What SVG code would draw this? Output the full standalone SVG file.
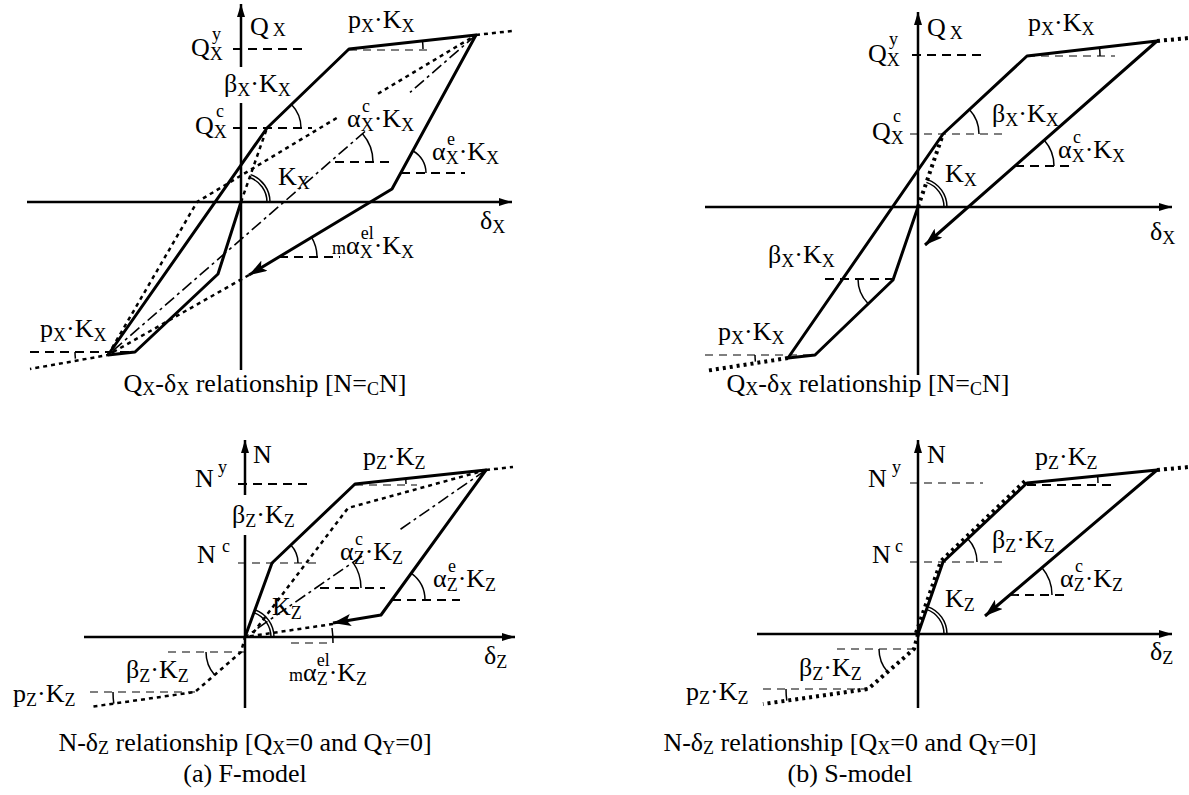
<svg xmlns="http://www.w3.org/2000/svg" width="1189" height="795" viewBox="0 0 1189 795">
<style>
text{font-family:"Liberation Serif","Times New Roman",serif;fill:#000}
.l{font-size:26px}
.s{font-size:18px}
.c{font-size:26px}
.cs{font-size:18px}
.ax{stroke:#000;stroke-width:2.5;fill:none}
.sk{stroke:#000;stroke-width:3;fill:none;stroke-linejoin:round}
.dt{stroke:#000;stroke-width:2.5;stroke-dasharray:4 4;fill:none}
.db{stroke:#000;stroke-width:4;stroke-dasharray:3 4;fill:none}
.dd{stroke:#000;stroke-width:1.6;stroke-dasharray:12 4 3 4;fill:none}
.rf{stroke:#000;stroke-width:1.8;stroke-dasharray:9 6;fill:none}
.rt{stroke:#000;stroke-width:1.1;stroke-dasharray:8 6;fill:none}
.ar{stroke:#000;stroke-width:1.5;fill:none}
</style>
<defs>
<marker id="ah" markerUnits="userSpaceOnUse" markerWidth="14" markerHeight="10" refX="13" refY="5" orient="auto"><path d="M0,1 L13,5 L0,9 z" fill="#000"/></marker>
<marker id="uh" markerUnits="userSpaceOnUse" markerWidth="20" markerHeight="12" refX="18" refY="6" orient="auto"><path d="M0,0 L18,6 L0,12 L4,6 z" fill="#000"/></marker>
</defs>

<!-- Panel (a) top: Qx-dx F-model -->
<g id="a-qx">
<g id="a-qx-axes">
<path class="ax" d="M241,370 V103"/>
<path class="ax" d="M241,67 V4" marker-end="url(#ah)"/>
<path class="ax" d="M27,202 H512" marker-end="url(#ah)"/>
</g>
<g id="a-qx-curves">
<path class="sk" d="M108,355 L267,128 L349,49 L476,35 L392,189 L249,275" marker-end="url(#uh)"/>
<path class="sk" d="M241,202 L218,274 L135,352 L108,355"/>
<path class="dt" d="M241,202 L267,128"/>
<path class="dt" d="M108,355 L197,202 L340,116"/>
<path class="dt" d="M378,93.7 L476,35"/>
<path class="dt" d="M476,35 L512,31"/>
<path class="dt" d="M249,275 L108,355 L30,369"/>
<path class="dd" d="M476,35 L410,92.4"/>
<path class="dd" d="M365,131.5 L108,355"/>
</g>
<g id="a-qx-refs">
<path class="rf" d="M233,49 H307"/>
<path class="rt" d="M349,50 H433"/>
<path class="rf" d="M233,128 H312"/>
<path class="rf" d="M335,162 H395"/>
<path class="rf" d="M401,173 H465"/>
<path class="rf" d="M279,257 H340"/>
<path class="rf" d="M30,352 H135"/>
<path class="ar" d="M267,202 A26,26 0 0 0 249.6,177.5 M270,202 A29,29 0 0 0 250.6,174.6"/>
<path class="ar" d="M301,128 A34,34 0 0 0 291.5,104.4"/>
<path class="ar" d="M423,49 A74,74 0 0 0 422.5,40.9"/>
<path class="ar" d="M373,162 A43,43 0 0 0 362.5,133.8"/>
<path class="ar" d="M426,173 A25,25 0 0 0 413,151"/>
<path class="ar" d="M317,257 A38,38 0 0 0 311.6,237.4"/>
<path class="ar" d="M75,352 A60,60 0 0 0 75.4,358.6"/>
</g>
<g id="a-qx-labels">
<text class="l" x="250" y="35">Q<tspan class="s" dx="4" dy="1">X</tspan></text>
<text class="l" x="191" y="56">Q<tspan class="s" dy="4">X</tspan></text>
<text class="s" x="212" y="40">y</text>
<text class="l" x="195" y="134">Q<tspan class="s" dy="4">X</tspan></text>
<text class="s" x="216" y="117">c</text>
<text class="l" x="224" y="92">β<tspan class="s" dy="4">X</tspan><tspan dy="-4">·K</tspan><tspan class="s" dy="4">X</tspan></text>
<text class="l" x="278" y="185">K<tspan class="s" dy="4">X</tspan></text>
<text class="l" x="348" y="28">p<tspan class="s" dy="4">X</tspan><tspan dy="-4">·K</tspan><tspan class="s" dy="4">X</tspan></text>
<text class="l" x="347" y="127">α<tspan class="s" dy="4">X</tspan><tspan dy="-4">·K</tspan><tspan class="s" dy="4">X</tspan></text>
<text class="s" x="362" y="112">c</text>
<text class="l" x="432" y="160">α<tspan class="s" dy="4">X</tspan><tspan dy="-4">·K</tspan><tspan class="s" dy="4">X</tspan></text>
<text class="s" x="447" y="145">e</text>
<text class="l" x="480" y="229">δ<tspan class="s" dy="4">X</tspan></text>
<text class="l" x="332" y="254"><tspan class="s">m</tspan>α<tspan class="s" dy="4">X</tspan><tspan class="s" dx="-12" dy="-19">el</tspan><tspan dy="15">·K</tspan><tspan class="s" dy="4">X</tspan></text>
<text class="l" x="40" y="337">p<tspan class="s" dy="4">X</tspan><tspan dy="-4">·K</tspan><tspan class="s" dy="4">X</tspan></text>
<text class="c" x="265" y="392" text-anchor="middle">Q<tspan class="cs" dy="3">X</tspan><tspan dy="-3">-δ</tspan><tspan class="cs" dy="3">X</tspan><tspan dy="-3"> relationship [N=</tspan><tspan class="cs" dy="3">C</tspan><tspan dy="-3">N]</tspan></text>
</g>
</g>

<!-- Panel (b) top: Qx-dx S-model -->
<g id="b-qx">
<g id="b-qx-axes">
<path class="ax" d="M918,375 V12" marker-end="url(#ah)"/>
<path class="ax" d="M705,207 H1172" marker-end="url(#ah)"/>
</g>
<g id="b-qx-curves">
<path class="sk" d="M788,358 L943,134 L1027,56 L1157,41 L925,245" marker-end="url(#uh)"/>
<path class="sk" d="M918,207 L893,280 L815,355 L788,358"/>
<path class="db" d="M918,207 L943,134"/>
<path class="db" d="M1157,41 L1189,38"/>
<path class="db" d="M788,358 L705,371"/>
</g>
<g id="b-qx-refs">
<path class="rf" d="M912,55 H985"/>
<path class="rt" d="M910,134 H1008"/>
<path class="rt" d="M1027,56 H1115"/>
<path class="rf" d="M1015,166 H1073"/>
<path class="rf" d="M825,279 H893"/>
<path class="rt" d="M705,355 H815"/>
<path class="ar" d="M944,207 A26,26 0 0 0 926.4,182.4 M947,207 A29,29 0 0 0 927.4,179.6"/>
<path class="ar" d="M979,134 A36,36 0 0 0 969.4,109.5"/>
<path class="ar" d="M1100,56 A73,73 0 0 0 1099.5,47.6"/>
<path class="ar" d="M1054,166 A39,39 0 0 0 1044.3,140.3"/>
<path class="ar" d="M858,279 A35,35 0 0 0 867.8,303.3"/>
<path class="ar" d="M755,355 A60,60 0 0 0 755.4,361.6"/>
</g>
<g id="b-qx-labels">
<text class="l" x="927" y="36">Q<tspan class="s" dx="4" dy="3">X</tspan></text>
<text class="l" x="868" y="62">Q<tspan class="s" dy="4">X</tspan></text>
<text class="s" x="889" y="45">y</text>
<text class="l" x="872" y="140">Q<tspan class="s" dy="4">X</tspan></text>
<text class="s" x="893" y="122">c</text>
<text class="l" x="1028" y="31">p<tspan class="s" dy="4">X</tspan><tspan dy="-4">·K</tspan><tspan class="s" dy="4">X</tspan></text>
<text class="l" x="992" y="122">β<tspan class="s" dy="4">X</tspan><tspan dy="-4">·K</tspan><tspan class="s" dy="4">X</tspan></text>
<text class="l" x="1058" y="158">α<tspan class="s" dy="4">X</tspan><tspan dy="-4">·K</tspan><tspan class="s" dy="4">X</tspan></text>
<text class="s" x="1073" y="143">c</text>
<text class="l" x="945" y="182">K<tspan class="s" dy="4">X</tspan></text>
<text class="l" x="1150" y="240">δ<tspan class="s" dy="4">X</tspan></text>
<text class="l" x="768" y="263">β<tspan class="s" dy="4">X</tspan><tspan dy="-4">·K</tspan><tspan class="s" dy="4">X</tspan></text>
<text class="l" x="718" y="340">p<tspan class="s" dy="4">X</tspan><tspan dy="-4">·K</tspan><tspan class="s" dy="4">X</tspan></text>
<text class="c" x="868" y="392" text-anchor="middle">Q<tspan class="cs" dy="3">X</tspan><tspan dy="-3">-δ</tspan><tspan class="cs" dy="3">X</tspan><tspan dy="-3"> relationship [N=</tspan><tspan class="cs" dy="3">C</tspan><tspan dy="-3">N]</tspan></text>
</g>
</g>

<!-- Panel (a) bottom: N-dz F-model -->
<g id="a-nz">
<g id="a-nz-axes">
<path class="ax" d="M245,708 V535"/>
<path class="ax" d="M245,495 V440" marker-end="url(#ah)"/>
<path class="ax" d="M84,637 H515" marker-end="url(#ah)"/>
</g>
<g id="a-nz-curves">
<path class="sk" d="M245,637 L272,563 L355,484 L486,470 L381,615 L333,623" marker-end="url(#uh)"/>
<path class="dt" d="M486,470 L513,467"/>
<path class="dt" d="M486,470 L348,508 L250,637"/>
<path class="dt" d="M333,624 L245,637 L241,652 L195,692 L90,707"/>
<path class="dd" d="M486,470 L400,529.6"/>
<path class="dd" d="M362,556 L245,637"/>
</g>
<g id="a-nz-refs">
<path class="rf" d="M238,484 H312"/>
<path class="rt" d="M355,485 H417"/>
<path class="rt" d="M238,563 H317"/>
<path class="rf" d="M320,588 H385"/>
<path class="rf" d="M392,600 H460"/>
<path class="rt" d="M291,643 H333"/>
<path class="rt" d="M168,652 H245"/>
<path class="rt" d="M90,692 H195"/>
<path class="ar" d="M271,637 A26,26 0 0 0 253.9,612.6 M274,637 A29,29 0 0 0 254.9,609.8"/>
<path class="ar" d="M298,563 A26,26 0 0 0 290.8,545.1"/>
<path class="ar" d="M406,484 A51,51 0 0 0 405.7,478.6"/>
<path class="ar" d="M361,588 A45,45 0 0 0 353,562.4"/>
<path class="ar" d="M425,600 A33,33 0 0 0 411.4,573.3"/>
<path class="ar" d="M333,643 A100,100 0 0 0 332,628"/>
<path class="ar" d="M206,652 A35,35 0 0 0 214.6,675"/>
<path class="ar" d="M113,692 A82,82 0 0 0 113.8,703.6"/>
</g>
<g id="a-nz-labels">
<text class="l" x="253" y="463">N</text>
<text class="l" x="195" y="487">N</text>
<text class="s" x="218" y="473">y</text>
<text class="l" x="232" y="523">β<tspan class="s" dy="4">Z</tspan><tspan dy="-4">·K</tspan><tspan class="s" dy="4">Z</tspan></text>
<text class="l" x="197" y="563">N</text>
<text class="s" x="222" y="552">c</text>
<text class="l" x="363" y="465">p<tspan class="s" dy="4">Z</tspan><tspan dy="-4">·K</tspan><tspan class="s" dy="4">Z</tspan></text>
<text class="l" x="340" y="560">α<tspan class="s" dy="4">Z</tspan><tspan dy="-4">·K</tspan><tspan class="s" dy="4">Z</tspan></text>
<text class="s" x="355" y="545">c</text>
<text class="l" x="433" y="587">α<tspan class="s" dy="4">Z</tspan><tspan dy="-4">·K</tspan><tspan class="s" dy="4">Z</tspan></text>
<text class="s" x="448" y="572">e</text>
<text class="l" x="272" y="615">K<tspan class="s" dy="4">Z</tspan></text>
<text class="l" x="484" y="664">δ<tspan class="s" dy="4">Z</tspan></text>
<text class="l" x="289" y="681"><tspan class="s">m</tspan>α<tspan class="s" dy="4">Z</tspan><tspan class="s" dx="-11" dy="-19">el</tspan><tspan dx="-1" dy="15">·K</tspan><tspan class="s" dy="4">Z</tspan></text>
<text class="l" x="126" y="678">β<tspan class="s" dy="4">Z</tspan><tspan dy="-4">·K</tspan><tspan class="s" dy="4">Z</tspan></text>
<text class="l" x="13" y="702">p<tspan class="s" dy="4">Z</tspan><tspan dy="-4">·K</tspan><tspan class="s" dy="4">Z</tspan></text>
<text class="c" x="245" y="751" text-anchor="middle">N-δ<tspan class="cs" dy="3">Z</tspan><tspan dy="-3"> relationship [Q</tspan><tspan class="cs" dy="3">X</tspan><tspan dy="-3">=0 and Q</tspan><tspan class="cs" dy="3">Y</tspan><tspan dy="-3">=0]</tspan></text>
<text class="c" x="245" y="782" text-anchor="middle">(a) F-model</text>
</g>
</g>

<!-- Panel (b) bottom: N-dz S-model -->
<g id="b-nz">
<g id="b-nz-axes">
<path class="ax" d="M918,708 V440" marker-end="url(#ah)"/>
<path class="ax" d="M757,634 H1172" marker-end="url(#ah)"/>
</g>
<g id="b-nz-curves">
<path class="sk" d="M918,634 L943,562 L1027,483 L1157,470 L985,616" marker-end="url(#uh)"/>
<path class="db" d="M916,633 L941,561 L1025,481"/>
<path class="db" d="M1157,470 L1189,467"/>
<path class="db" d="M918,634 L914,649 L868,689 L763,704"/>
</g>
<g id="b-nz-refs">
<path class="rt" d="M910,483 H983"/>
<path class="rt" d="M910,562 H1008"/>
<path class="rf" d="M1027,485 H1115"/>
<path class="rf" d="M1010,595 H1070"/>
<path class="rt" d="M837,649 H914"/>
<path class="rt" d="M763,689 H868"/>
<path class="ar" d="M944,634 A26,26 0 0 0 926.5,609.4 M947,634 A29,29 0 0 0 927.5,606.6"/>
<path class="ar" d="M977,562 A34,34 0 0 0 967.8,538.7"/>
<path class="ar" d="M1098,483 A71,71 0 0 0 1097.6,475.9"/>
<path class="ar" d="M1052,595 A42,42 0 0 0 1042,567.8"/>
<path class="ar" d="M879,649 A35,35 0 0 0 887.6,672"/>
<path class="ar" d="M786,689 A82,82 0 0 0 786.8,700.6"/>
</g>
<g id="b-nz-labels">
<text class="l" x="927" y="463">N</text>
<text class="l" x="868" y="487">N</text>
<text class="s" x="892" y="473">y</text>
<text class="l" x="872" y="563">N</text>
<text class="s" x="895" y="552">c</text>
<text class="l" x="1035" y="465">p<tspan class="s" dy="4">Z</tspan><tspan dy="-4">·K</tspan><tspan class="s" dy="4">Z</tspan></text>
<text class="l" x="992" y="548">β<tspan class="s" dy="4">Z</tspan><tspan dy="-4">·K</tspan><tspan class="s" dy="4">Z</tspan></text>
<text class="l" x="1060" y="587">α<tspan class="s" dy="4">Z</tspan><tspan dy="-4">·K</tspan><tspan class="s" dy="4">Z</tspan></text>
<text class="s" x="1075" y="572">c</text>
<text class="l" x="945" y="607">K<tspan class="s" dy="4">Z</tspan></text>
<text class="l" x="1150" y="660">δ<tspan class="s" dy="4">Z</tspan></text>
<text class="l" x="799" y="676">β<tspan class="s" dy="4">Z</tspan><tspan dy="-4">·K</tspan><tspan class="s" dy="4">Z</tspan></text>
<text class="l" x="686" y="700">p<tspan class="s" dy="4">Z</tspan><tspan dy="-4">·K</tspan><tspan class="s" dy="4">Z</tspan></text>
<text class="c" x="850" y="751" text-anchor="middle">N-δ<tspan class="cs" dy="3">Z</tspan><tspan dy="-3"> relationship [Q</tspan><tspan class="cs" dy="3">X</tspan><tspan dy="-3">=0 and Q</tspan><tspan class="cs" dy="3">Y</tspan><tspan dy="-3">=0]</tspan></text>
<text class="c" x="850" y="782" text-anchor="middle">(b) S-model</text>
</g>
</g>
</svg>
